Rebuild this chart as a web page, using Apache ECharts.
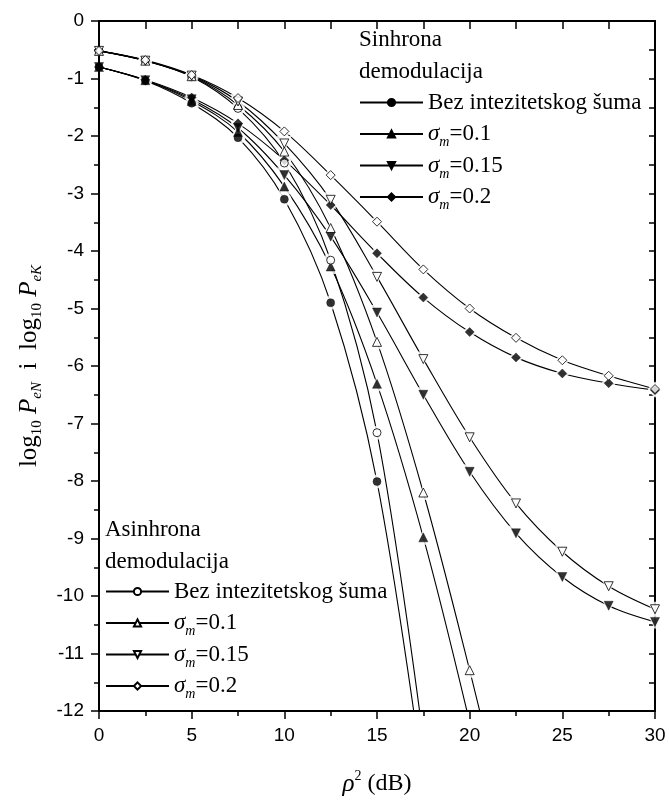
<!DOCTYPE html>
<html>
<head>
<meta charset="utf-8">
<script src="https://cdn.jsdelivr.net/npm/echarts/dist/echarts.min.js"></script>
<style>
html,body{margin:0;padding:0;background:#fff;}
#chart{width:669px;height:806px;}
</style>
</head>
<body>
<div id="chart"></div>
<script>
// x positions (rho^2 in dB)
const xValues = [0, 2.5, 5, 7.5, 10, 12.5, 15, 17.5, 20, 22.5, 25, 27.5, 30];

// Sinhrona demodulacija (filled symbols)
const syncBez  = [-0.80, -1.04, -1.43, -2.03, -3.10, -4.90, -8.01, -13.2];
const sync01   = [-0.80, -1.03, -1.39, -1.93, -2.88, -4.27, -6.31, -8.98, -12.2];
const sync015  = [-0.80, -1.03, -1.36, -1.86, -2.68, -3.75, -5.07, -6.50, -7.84, -8.91, -9.67, -10.17, -10.45];
const sync02   = [-0.80, -1.02, -1.33, -1.78, -2.42, -3.20, -4.04, -4.81, -5.41, -5.85, -6.13, -6.30, -6.42];

// Asinhrona demodulacija (hollow symbols)
const asyncBez = [-0.52, -0.69, -0.97, -1.52, -2.47, -4.16, -7.16, -12.5];
const async01  = [-0.52, -0.69, -0.96, -1.46, -2.27, -3.60, -5.58, -8.20, -11.29, -14.6];
const async015 = [-0.52, -0.69, -0.95, -1.40, -2.13, -3.11, -4.45, -5.88, -7.24, -8.39, -9.23, -9.83, -10.23];
const async02  = [-0.52, -0.68, -0.94, -1.34, -1.92, -2.68, -3.49, -4.32, -5.00, -5.51, -5.90, -6.17, -6.40];

const legendLabels = {
  sBez: 'Bez intezitetskog šuma',
  s01: '{s|σ}{m|m}{t|=0.1}',
  s015: '{s|σ}{m|m}{t|=0.15}',
  s02: '{s|σ}{m|m}{t|=0.2}',
  aBez: 'Bez intezitetskog šuma',
  a01: '{s|σ}{m|m}{t|=0.1}',
  a015: '{s|σ}{m|m}{t|=0.15}',
  a02: '{s|σ}{m|m}{t|=0.2}'
};

const SERIF = '"Liberation Serif", "Times New Roman", serif';
const SANS = '"Liberation Sans", Arial, sans-serif';

function pairs(arr) {
  return arr.map((v, i) => [xValues[i], v]);
}

const defs = [
  ['sBez', syncBez, 'circle', 0, true, 8],
  ['s01', sync01, 'triangle', 0, true, 9],
  ['s015', sync015, 'triangle', 180, true, 9],
  ['s02', sync02, 'diamond', 0, true, 9],
  ['aBez', asyncBez, 'circle', 0, false, 8],
  ['a01', async01, 'triangle', 0, false, 9],
  ['a015', async015, 'triangle', 180, false, 9],
  ['a02', async02, 'diamond', 0, false, 9]
];

function styleFor(filled) {
  return filled
    ? { color: '#000', borderColor: '#000', borderWidth: 0.5 }
    : { color: '#fff', borderColor: '#000', borderWidth: 1 };
}

const series = [];
// curves (line + legend icon)
defs.forEach(d => {
  series.push({
    name: d[0], type: 'line', data: pairs(d[1]), smooth: 0.35,
    symbol: d[2], symbolRotate: d[3], symbolSize: d[5], showSymbol: false,
    clip: true, color: '#000', z: 2,
    lineStyle: { color: '#000', width: 1.1 },
    itemStyle: styleFor(d[4]),
    emphasis: { disabled: true }, silent: true
  });
});
// white gaps around markers (as in the original plot)
defs.forEach(d => {
  series.push({
    name: 'gap_' + d[0], type: 'scatter', data: pairs(d[1]).slice(1),
    symbol: d[2], symbolRotate: d[3], symbolSize: d[5] + 6, clip: true, z: 3,
    itemStyle: { color: '#fff', borderWidth: 0 }, silent: true, emphasis: { disabled: true }
  });
});
// markers
defs.forEach(d => {
  series.push({
    name: 'pt_' + d[0], type: 'scatter', data: pairs(d[1]),
    symbol: d[2], symbolRotate: d[3], symbolSize: d[5], clip: true, z: 4,
    itemStyle: styleFor(d[4]), silent: true, emphasis: { disabled: true }
  });
});

const legendRich = {
  s: { fontFamily: SERIF, fontStyle: 'italic', fontSize: 23, lineHeight: 31, color: '#000' },
  m: { fontFamily: SERIF, fontStyle: 'italic', fontSize: 14, lineHeight: 31, verticalAlign: 'bottom', color: '#000' },
  t: { fontFamily: SERIF, fontSize: 23, lineHeight: 31, color: '#000' }
};

function legend(names, left, top) {
  return {
    data: names,
    orient: 'vertical',
    left: left,
    top: top,
    padding: 0,
    itemGap: 0.5,
    itemWidth: 63,
    itemHeight: 9,
    selectedMode: false,
    formatter: n => legendLabels[n],
    textStyle: { fontFamily: SERIF, fontSize: 23, lineHeight: 31, color: '#000', rich: legendRich }
  };
}

const axisLineStyle = { color: '#000', width: 2 };

const option = {
  animation: false,
  backgroundColor: '#fff',
  grid: { left: 99, right: 14, top: 21, bottom: 95, outerBoundsMode: 'none', containLabel: false },
  legend: [
    legend(['sBez', 's01', 's015', 's02'], 359, 87),
    legend(['aBez', 'a01', 'a015', 'a02'], 105, 576)
  ],
  graphic: [
    { type: 'text', left: 359, top: 24, silent: true,
      style: { text: 'Sinhrona\ndemodulacija', font: '23px ' + SERIF, lineHeight: 32, fill: '#000' } },
    { type: 'text', left: 105, top: 514, silent: true,
      style: { text: 'Asinhrona\ndemodulacija', font: '23px ' + SERIF, lineHeight: 32, fill: '#000' } }
  ],
  xAxis: [
    {
      type: 'value', position: 'bottom', min: 0, max: 30, interval: 5,
      axisLine: { show: true, onZero: false, lineStyle: axisLineStyle },
      axisTick: { show: true, inside: false, length: 8, lineStyle: { color: '#000', width: 1.5 } },
      minorTick: { show: true, splitNumber: 2, length: 5, lineStyle: { color: '#000', width: 1.5 } },
      splitLine: { show: false },
      minorSplitLine: { show: false },
      axisLabel: { show: true, fontFamily: SANS, fontSize: 19, color: '#000', margin: 15 },
      name: '{r|ρ}{sup|2}{n| (dB)}',
      nameLocation: 'middle',
      nameGap: 58,
      nameTextStyle: {
        fontFamily: SERIF, fontSize: 24, color: '#000',
        rich: {
          r: { fontFamily: SERIF, fontStyle: 'italic', fontSize: 25, lineHeight: 30, color: '#000' },
          sup: { fontFamily: SERIF, fontSize: 14, lineHeight: 30, verticalAlign: 'top', color: '#000' },
          n: { fontFamily: SERIF, fontSize: 24, lineHeight: 30, color: '#000' }
        }
      }
    },
    {
      type: 'value', position: 'top', min: 0, max: 30, interval: 2.5,
      axisLine: { show: true, onZero: false, lineStyle: axisLineStyle },
      axisTick: { show: true, inside: true, length: 8, lineStyle: { color: '#000', width: 1.5 } },
      splitLine: { show: false },
      axisLabel: { show: false }
    }
  ],
  yAxis: [
    {
      type: 'value', position: 'left', min: -12, max: 0, interval: 1,
      axisLine: { show: true, onZero: false, lineStyle: axisLineStyle },
      axisTick: { show: true, inside: false, length: 8, lineStyle: { color: '#000', width: 1.5 } },
      minorTick: { show: true, splitNumber: 2, length: 5, lineStyle: { color: '#000', width: 1.5 } },
      splitLine: { show: false },
      minorSplitLine: { show: false },
      axisLabel: { show: true, fontFamily: SANS, fontSize: 19, color: '#000', margin: 15 },
      name: '{t|log}{sb|10}{i| P}{si|eN}{t|  i  log}{sb|10}{i| P}{si|eK}',
      nameLocation: 'middle',
      nameGap: 54,
      nameTextStyle: {
        fontFamily: SERIF, fontSize: 24, color: '#000',
        rich: {
          t: { fontFamily: SERIF, fontSize: 25, lineHeight: 32, color: '#000' },
          i: { fontFamily: SERIF, fontStyle: 'italic', fontSize: 25, lineHeight: 32, color: '#000' },
          sb: { fontFamily: SERIF, fontSize: 15, lineHeight: 32, verticalAlign: 'bottom', color: '#000' },
          si: { fontFamily: SERIF, fontStyle: 'italic', fontSize: 15, lineHeight: 32, verticalAlign: 'bottom', color: '#000' }
        }
      }
    },
    {
      type: 'value', position: 'right', min: -12, max: 0, interval: 0.5,
      axisLine: { show: true, onZero: false, lineStyle: axisLineStyle },
      axisTick: { show: true, inside: true, length: 6, lineStyle: { color: '#000', width: 1.5 } },
      splitLine: { show: false },
      axisLabel: { show: false }
    }
  ],
  series: series
};

const chart = echarts.init(document.getElementById('chart'), null, { renderer: 'canvas' });
chart.setOption(option);
</script>
</body>
</html>
